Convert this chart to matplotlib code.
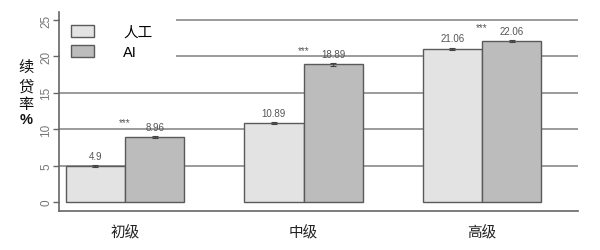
import matplotlib
matplotlib.use("Agg")
import matplotlib.pyplot as plt
from matplotlib.patches import Patch, Rectangle
import numpy as np

plt.rcParams['font.family'] = ['Liberation Sans', 'Noto Sans CJK SC', 'DejaVu Sans']

categories = ['初级', '中级', '高级']
series_names = ['人工', 'AI']
manual = [4.9, 10.89, 21.06]
ai = [8.96, 18.89, 22.06]
manual_err = [0.15, 0.15, 0.15]
ai_err = [0.15, 0.2, 0.15]
yticks = [0, 5, 10, 15, 20, 25]
sig = ['***', '***', '***']

c_manual = '#e3e3e3'
c_ai = '#bcbcbc'
edge = '#5a5a5a'

fig = plt.figure(figsize=(6.0, 2.51), dpi=100)
ax = fig.add_axes([59/600, 1 - 212/251, 519/600, (212 - 13)/251])

x = np.arange(len(categories))
w = 0.333
ax.bar(x - w/2, manual, w, color=c_manual, edgecolor=edge, linewidth=1.0, zorder=3)
ax.bar(x + w/2, ai, w, color=c_ai, edgecolor=edge, linewidth=1.0, zorder=3)
ax.errorbar(x - w/2, manual, yerr=manual_err, fmt='none', ecolor='#444444',
            elinewidth=0.8, capsize=2, capthick=0.8, zorder=4)
ax.errorbar(x + w/2, ai, yerr=ai_err, fmt='none', ecolor='#444444',
            elinewidth=0.8, capsize=2, capthick=0.8, zorder=4)

for xi, v in zip(x - w/2, manual):
    ax.text(xi, v + 1.4, f'{v:g}', ha='center', va='center', fontsize=7, color='#555555', zorder=5)
for xi, v in zip(x + w/2, ai):
    ax.text(xi, v + 1.4, f'{v:g}', ha='center', va='center', fontsize=7, color='#555555', zorder=5)
for xi, m, a, s in zip(x, manual, ai, sig):
    ax.text(xi, max(m, a) + 1.95, s, ha='center', va='center', fontsize=7, color='#555555', zorder=5)

ax.set_xlim(-0.37, 2.538)
ax.set_ylim(-1.24, 26.1)
ax.set_yticks(yticks)
ax.set_yticklabels([str(t) for t in yticks], rotation=90, va='center', fontsize=8.5, color='#777777')
ax.tick_params(axis='y', length=4, width=1.0, color='#666666', pad=1)
ax.set_xticks(x)
ax.set_xticklabels(categories, fontsize=10.5, color='#222222')
ax.tick_params(axis='x', length=0, pad=10)

for sp in ['top', 'right']:
    ax.spines[sp].set_visible(False)
for sp in ['left', 'bottom']:
    ax.spines[sp].set_color('#666666')
    ax.spines[sp].set_linewidth(1.2)

ax.yaxis.grid(True, color='#8a8a8a', linewidth=1.2, zorder=0)
ax.set_axisbelow(True)
ax.get_ygridlines()[0].set_visible(False)

# white background behind legend (covers gridlines as in the reference)
ax.add_patch(Rectangle((1/519, 1 - 52/199), 116/519, 52/199, transform=ax.transAxes,
                       facecolor='white', edgecolor='none', zorder=1))

handles = [Patch(facecolor=c_manual, edgecolor=edge, linewidth=1.0),
           Patch(facecolor=c_ai, edgecolor=edge, linewidth=1.0)]
leg = ax.legend(handles, series_names, loc='upper left', bbox_to_anchor=(0.0, 0.995),
                frameon=False, fontsize=10.5, handlelength=1.6, handleheight=0.9,
                handletextpad=2.0, borderpad=0.5, labelspacing=0.45, borderaxespad=0.3)
leg.set_zorder(6)

for ch, yy in zip(['续', '贷', '率'], [68, 87, 105]):
    fig.text(26/600, 1 - yy/251, ch, ha='center', va='center', fontsize=11, color='#111111')
fig.text(26/600, 1 - 120/251, '%', ha='center', va='center', fontsize=10.5,
         fontweight='bold', color='#111111')

fig.savefig('out.png', dpi=100)
